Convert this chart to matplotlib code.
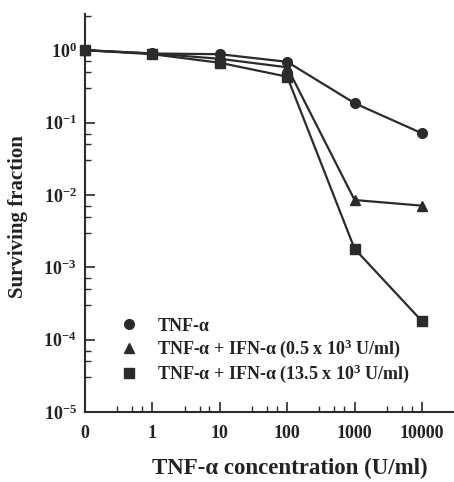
import matplotlib
matplotlib.use("Agg")
import matplotlib.pyplot as plt
from matplotlib.lines import Line2D
import numpy as np

# Dane
conc_labels = ["0", "1", "10", "100", "1000", "10000"]
tnf = [1.0, 0.90, 0.88, 0.69, 0.185, 0.071]
tnf_ifn_low = [1.0, 0.90, 0.76, 0.58, 0.0085, 0.0071]
tnf_ifn_high = [1.0, 0.88, 0.67, 0.43, 0.0018, 0.00018]
series_labels = ["TNF-α",
                 "TNF-α + IFN-α (0.5 x 10$^3$ U/ml)",
                 "TNF-α + IFN-α (13.5 x 10$^3$ U/ml)"]
y_decades = [1e-5, 1e-4, 1e-3, 1e-2, 1e-1, 1e0]
y_tick_labels = ["10$^{-5}$", "10$^{-4}$", "10$^{-3}$", "10$^{-2}$", "10$^{-1}$", "10$^{0}$"]

plt.rcParams["font.family"] = ["Liberation Serif", "DejaVu Serif"]
plt.rcParams["font.weight"] = "bold"
plt.rcParams["mathtext.fontset"] = "custom"
plt.rcParams["mathtext.rm"] = "Liberation Serif:bold"
plt.rcParams["mathtext.it"] = "Liberation Serif:bold"
plt.rcParams["mathtext.bf"] = "Liberation Serif:bold"
plt.rcParams["mathtext.default"] = "rm"

ink = "#2b2b2b"
txt = "#222222"

fig = plt.figure(figsize=(4.54, 4.82), dpi=100)
ax = fig.add_axes([85 / 454, 70 / 482, (454 - 85) / 454, (468 - 70) / 482])

x = np.arange(len(conc_labels))
markers = ["o", "^", "s"]
for vals, m in zip([tnf, tnf_ifn_low, tnf_ifn_high], markers):
    ax.plot(x, vals, marker=m, color=ink, lw=1.6, ms=7 if m != "^" else 7.5,
            clip_on=False, zorder=3)

ax.set_yscale("log")
ax.set_ylim(1e-5, 10 ** 0.5)
ax.set_xlim(0, (454 - 85) / 67.4)

# osie
for s in ["top", "right"]:
    ax.spines[s].set_visible(False)
for s in ["left", "bottom"]:
    ax.spines[s].set_linewidth(1.5)
    ax.spines[s].set_color(ink)

ax.set_yticks(y_decades)
ax.set_yticklabels(y_tick_labels)
minor_y = [k * d for d in y_decades for k in (3, 5, 7)]
minor_y = [v for v in minor_y if v <= 10 ** 0.5]
ax.set_yticks(minor_y, minor=True)
ax.yaxis.set_minor_formatter(plt.NullFormatter())

ax.set_xticks(x)
ax.set_xticklabels(conc_labels)
minor_x = [i + np.log10(k) for i in range(len(conc_labels) - 1) for k in (3, 5, 7)]
ax.set_xticks(minor_x, minor=True)

ax.tick_params(which="major", direction="in", length=7, width=1.2, color=ink,
               labelsize=13, labelcolor=txt)
ax.tick_params(which="minor", direction="in", length=4, width=1.0, color=ink)
ax.tick_params(axis="x", which="major", pad=9)
ax.tick_params(axis="y", which="major", pad=6)

ax.set_xlabel("TNF-α concentration (U/ml)", fontsize=16.5, fontweight="bold",
              color=txt)
ax.xaxis.set_label_coords(0.555, -0.115)
ax.set_ylabel("Surviving fraction", fontsize=15, fontweight="bold", color=txt)
ax.yaxis.set_label_coords(-0.155, 0.49)

# legenda
handles = [Line2D([], [], marker=m, ls="none", color=ink, ms=7) for m in markers]
ax.legend(handles, series_labels, loc="upper left", frameon=False,
          bbox_to_anchor=(0.025, 0.2775), fontsize=13, handletextpad=0.6,
          labelspacing=0.15, labelcolor=txt)

plt.savefig("out.png", dpi=100)
